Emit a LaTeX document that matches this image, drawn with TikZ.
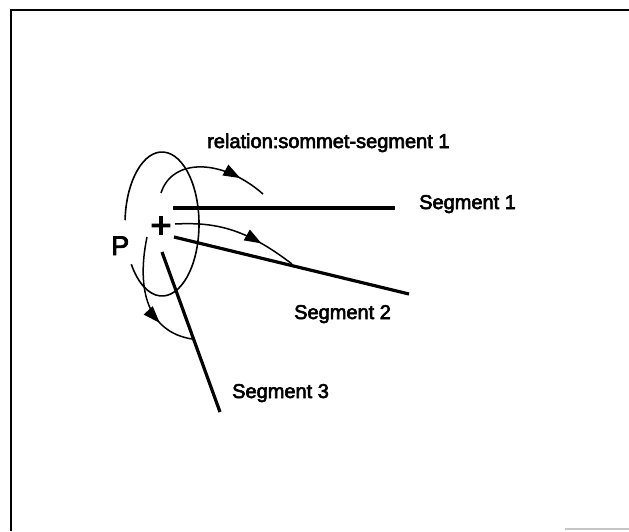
\documentclass[tikz,border=0pt]{standalone}
\usepackage{fontspec}
\setmainfont{Liberation Sans}
\newfontfamily\heavysans[FakeBold=3]{Liberation Sans}
\usetikzlibrary{arrows.meta,decorations.markings}
\begin{document}
\begin{tikzpicture}[x=1pt,y=-1pt,
  frame/.style={line width=2.5pt},
  seg/.style={line width=3.2pt},
  oval/.style={line width=1.6pt},
  rel/.style={line width=1.5pt, postaction={decorate},
    decoration={markings, mark=at position #1 with {\arrow{Triangle[length=17pt,width=12pt]}}}},
  lbl/.style={anchor=base west, inner sep=0pt, font=\heavysans\fontsize{20}{24}\selectfont},
]
\useasboundingbox (0,0) rectangle (629,531);
% frame
\coordinate (fbl) at (11,531);
\coordinate (ftl) at (11,10);
\coordinate (ftr) at (629,10);
\draw[frame] (fbl) -- (ftl) -- (ftr);
\coordinate (gl) at (565,529);
\coordinate (gr) at (629,529);
\draw[line width=1.5pt, gray!45] (gl) -- (gr);

% oval around the vertex, open where P sits
\coordinate (E) at (162,224);
\draw[oval] (E) ++(183:37 and 72) arc[start angle=183, end angle=506, x radius=37, y radius=72];

% vertex mark and name
\node[anchor=base, inner sep=0pt, font=\heavysans\fontsize{36}{40}\selectfont] (V) at (161,237.5) {+};
\node[lbl, font=\heavysans\fontsize{27}{30}\selectfont] (P) at (111,255) {P};

% segments
\coordinate (s1a) at (173,208);
\coordinate (s1b) at (395,208);
\coordinate (s2a) at (174,237);
\coordinate (s2b) at (409,294);
\coordinate (s3a) at (162,252);
\coordinate (s3b) at (220,412);
\draw[seg] (s1a) -- (s1b);
\draw[seg] (s2a) -- (s2b);
\draw[seg] (s3a) -- (s3b);

% relation arrows
\coordinate (a1s) at (161,193);
\coordinate (a1e) at (263,194);
\coordinate (a2s) at (175,224);
\coordinate (a2e) at (292,264);
\coordinate (a3s) at (147,237);
\coordinate (a3e) at (192,339);
\draw[rel=0.77] (a1s) .. controls (172,158) and (222,158) .. (a1e);
\draw[rel=0.71] (a2s) .. controls (215,222) and (245,228) .. (a2e);
\draw[rel=0.71] (a3s) .. controls (136,290) and (148,332) .. (a3e);

% labels
\node[lbl] (rel) at (207,148) {relation:sommet-segment 1};
\node[lbl] (l1) at (419,209) {Segment 1};
\node[lbl] (l2) at (294,319) {Segment 2};
\node[lbl] (l3) at (232,398) {Segment 3};
\end{tikzpicture}
\end{document}
